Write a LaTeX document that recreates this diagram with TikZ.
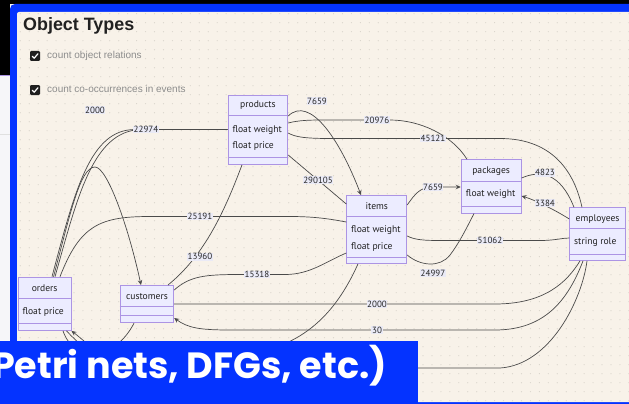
\documentclass[tikz,border=0pt]{standalone}
\usepackage{fontspec}
\setmainfont{Liberation Sans}
\newfontfamily\boxfont{PT Sans}
\newfontfamily\bannerfont{Poppins}
\usetikzlibrary{arrows.meta,calc}

\definecolor{pagebg}{HTML}{F6F6F9}
\definecolor{framebg}{HTML}{F8F2E9}
\definecolor{framedot}{HTML}{D9D4CB}
\definecolor{brandblue}{HTML}{0433FF}
\definecolor{boxfill}{HTML}{ECECFF}
\definecolor{boxline}{HTML}{AC94E4}
\definecolor{edgeline}{HTML}{4A4A4A}
\definecolor{lblfill}{HTML}{EAEAF6}
\definecolor{hintgrey}{HTML}{8C8C8C}

\tikzset{
  umlbox/.style={draw=boxline, fill=boxfill, line width=0.9pt, inner sep=0pt, anchor=north west},
  sepline/.style={draw=boxline, line width=0.9pt},
  boxtext/.style={font=\boxfont\fontsize{9.6}{11}\selectfont, text=black!87, inner sep=0pt},
  attr/.style={boxtext, anchor=west},
  rel/.style={draw=edgeline, line width=0.7pt},
  relarrow/.style={rel, -{Stealth[length=5pt,width=4.6pt,inset=1.8pt]}},
  lbl/.style={fill=lblfill, font=\boxfont\fontsize{9}{10}\selectfont, text=black!85, inner sep=0.6pt},
  checkbox/.style={fill=black!88, rounded corners=1.2pt, minimum size=10pt, inner sep=0pt},
  hint/.style={anchor=base west, font=\fontsize{10}{12}\selectfont, text=hintgrey, inner sep=0pt},
}

\begin{document}
\begin{tikzpicture}[x=1pt,y=-1pt]
\useasboundingbox (0,0) rectangle (629,404);

% window chrome
\fill[pagebg] (0,0) rectangle (629,404);
\fill[black] (0,0) rectangle (629,4);
\fill[black] (0,0) rectangle (10,75);
\draw[line width=0.8pt, draw=boxline] (0,75.6) -- (10,75.6);
\draw[line width=0.5pt, draw=black!12] (0,134) -- (10,134);
\fill[brandblue, rounded corners=5pt] (10,4) rectangle (660,440);
\fill[framebg, rounded corners=2pt] (17,12) rectangle (650,402);

% dotted grid
\begin{scope}
  \clip (17,12) rectangle (629,402);
  \foreach \i in {0,...,68}
    \foreach \j in {0,...,43}
      \fill[framedot] ({20.25+8.95*\i},{13.7+9*\j}) circle (0.6);
\end{scope}

% heading and options
\node[anchor=base west, font=\bfseries\fontsize{17.9}{20}\selectfont, text=black!87, inner sep=0pt] (title) at (23,31) {Object Types};
\node[checkbox] (cb1) at (35,56) {};
\draw[white, line width=1.2pt, line cap=round, line join=round] ($(cb1.center)+(-2.8,0.2)$) -- ($(cb1.center)+(-0.8,2.2)$) -- ($(cb1.center)+(2.9,-2.2)$);
\node[hint] (opt1) at (47,58.7) {count object relations};
\node[checkbox] (cb2) at (35,90) {};
\draw[white, line width=1.2pt, line cap=round, line join=round] ($(cb2.center)+(-2.8,0.2)$) -- ($(cb2.center)+(-0.8,2.2)$) -- ($(cb2.center)+(2.9,-2.2)$);
\node[hint] (opt2) at (47,92.3) {count co-occurrences in events};

% class boxes
\node[umlbox, minimum width=59.6pt, minimum height=69.3pt] (products) at (227.7,94.7) {};
\node[umlbox, minimum width=60pt, minimum height=68pt] (items) at (346.3,195) {};
\node[umlbox, minimum width=60pt, minimum height=53.4pt] (packages) at (460.7,159.3) {};
\node[umlbox, minimum width=55.7pt, minimum height=52.7pt] (employees) at (569.3,207.3) {};
\node[umlbox, minimum width=53pt, minimum height=53.3pt] (orders) at (17.7,276.7) {};
\node[umlbox, minimum width=53.6pt, minimum height=37.3pt] (customers) at (119.7,285) {};

% compartments
\foreach \b/\ya/\yb in {products/115.3/157.7, items/216/257.7, packages/181/206.7,
                        employees/228.7/254, orders/298.3/323.3, customers/306.7/315.3} {
  \draw[sepline] (\b.west |- 0,\ya) -- (\b.east |- 0,\ya);
  \draw[sepline] (\b.west |- 0,\yb) -- (\b.east |- 0,\yb);
}

% class names and attributes
\node[boxtext] (products-n) at (products.north |- 0,105) {products};
\node[attr] (products-a1) at (232.3,129.7) {float weight};
\node[attr] (products-a2) at (232.3,146) {float price};
\node[boxtext] (items-n) at (items.north |- 0,206.5) {items};
\node[attr] (items-a1) at (351,230) {float weight};
\node[attr] (items-a2) at (351,246.7) {float price};
\node[boxtext] (packages-n) at (packages.north |- 0,171) {packages};
\node[attr] (packages-a1) at (465.7,194.5) {float weight};
\node[boxtext] (employees-n) at (employees.north |- 0,219) {employees};
\node[attr] (employees-a1) at (574,242.5) {string role};
\node[boxtext] (orders-n) at (orders.north |- 0,288.5) {orders};
\node[attr] (orders-a1) at (22.3,312) {float price};
\node[boxtext] (customers-n) at (customers.north |- 0,296.5) {customers};

% relations leaving orders
\draw[rel] (orders.north -| 52,0) .. controls (75,190) and (90,129.5) .. (135,129.5) -- (products.west |- 0,129.5);
\draw[rel] (orders.north -| 55,0) .. controls (78,195) and (93,132) .. (140,129.5) -- (products.west |- 0,129.5);
\draw[relarrow] (orders.north -| 53.5,0) .. controls (70,215) and (80,167) .. (95,167) .. controls (107,167) and (128,225) .. (customers.north -| 141,0);
\draw[rel] (orders.north -| 60,0) .. controls (80,225) and (100,216.5) .. (150,216.5) -- (290,216.5) .. controls (315,216.5) and (330,219) .. (items.west |- 0,222);
\draw[rel] (customers.south -| 134,0) .. controls (115,360) and (75,365) .. (orders.south -| 63,0);
\draw[rel] (items.south -| 358,0) .. controls (335,315) and (300,352) .. (230,356) -- (110,356) .. controls (92,356) and (80,345) .. (orders.south -| 66.5,0);
\draw[relarrow] (employees.south -| 587,0) .. controls (582,300) and (550,365) .. (500,368) -- (140,368) .. controls (110,368) and (90,345) .. (orders.south -| 71.5,0);

% relations of customers
\draw[rel] (customers.east |- 0,304) -- (495,304) .. controls (545,304) and (567,282) .. (employees.south -| 580,0);
\draw[relarrow] (employees.south -| 583,0) .. controls (568,300) and (545,330) .. (495,330) -- (230,330) .. controls (200,330) and (188,328) .. (customers.east |- 0,318);
\draw[rel] (products.south -| 242,0) .. controls (225,210) and (205,255) .. (customers.north -| 168,0);
\draw[rel] (customers.east |- 0,290) .. controls (190,276) and (205,274.5) .. (240,274.5) -- (285,274.5) .. controls (310,274.5) and (325,262) .. (items.west |- 0,253);

% relations of products
\draw[relarrow] (products.east |- 0,116) .. controls (310,95) and (340,140) .. (items.north -| 361,0);
\draw[rel] (products.east |- 0,123) .. controls (300,120) and (310,120) .. (330,120) -- (390,120) .. controls (420,120) and (452,135) .. (packages.north -| 467,0);
\draw[rel] (products.east |- 0,133) .. controls (295,137) and (305,138.5) .. (330,138.5) -- (500,138.5) .. controls (555,138.5) and (575,175) .. (employees.north -| 582,0);
\draw[rel] (products.east |- 0,155) -- (items.west |- 0,204);

% relations of items, packages, employees
\draw[relarrow] (items.east |- 0,205) .. controls (415,194) and (420,187) .. (433,187) -- (packages.west |- 0,187);
\draw[rel] (items.east |- 0,236) .. controls (415,240) and (425,240.5) .. (440,240.5) -- (540,240.5) .. controls (555,240.5) and (562,238) .. (employees.west |- 0,238);
\draw[rel] (items.east |- 0,255) .. controls (420,266) and (440,268) .. (450,255) .. controls (460,242) and (468,225) .. (packages.south -| 474,0);
\draw[rel] (packages.east |- 0,178) .. controls (540,170) and (560,172) .. (employees.north -| 574,0);
\draw[relarrow] (employees.west |- 0,219) .. controls (555,210) and (535,200) .. (packages.east |- 0,196);

% relation counts
\node[lbl] (n2000a) at (95,110) {2000};
\node[lbl] (n22974) at (146,129.5) {22974};
\node[lbl] (n25191) at (200,216.5) {25191};
\node[lbl] (n13960) at (200,256.7) {13960};
\node[lbl] (n15318) at (257,274.5) {15318};
\node[lbl] (n2000b) at (377,304) {2000};
\node[lbl] (n30) at (377,330) {30};
\node[lbl] (n7659a) at (317,101) {7659};
\node[lbl] (n20976) at (377,120) {20976};
\node[lbl] (n45121) at (433,138.5) {45121};
\node[lbl] (n290105) at (318,180) {290105};
\node[lbl] (n7659b) at (433,187) {7659};
\node[lbl] (n4823) at (545,172.7) {4823};
\node[lbl] (n3384) at (545,203.3) {3384};
\node[lbl] (n51062) at (490,240.5) {51062};
\node[lbl] (n24997) at (433,273.3) {24997};

% caption banner
\fill[brandblue] (0,341) rectangle (418,404);
\begin{scope}
  \clip (0,341) rectangle (418,404);
  \node[anchor=base west, inner sep=0pt, text=white, font=\bannerfont\bfseries\fontsize{36.5}{42}\selectfont] (banner) at (-8,378.5) {Petri nets, DFGs, etc.)};
\end{scope}
\end{tikzpicture}
\end{document}
